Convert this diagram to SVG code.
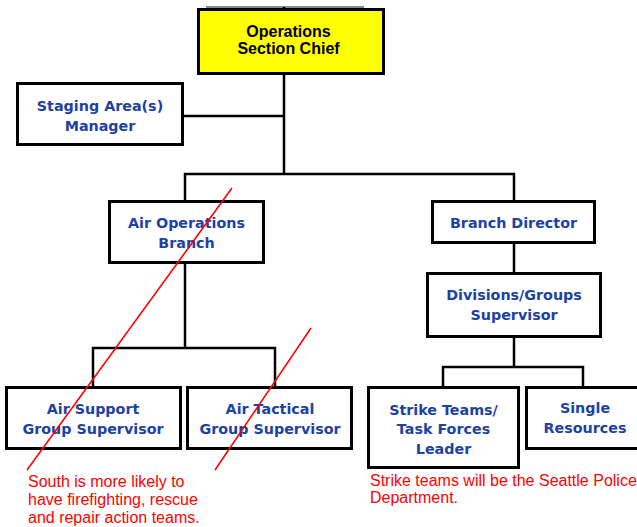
<svg xmlns="http://www.w3.org/2000/svg" width="637" height="527" viewBox="0 0 637 527">
  <style>
    .box { fill: #ffffff; stroke: #000000; stroke-width: 3; }
    .chief { fill: #ffff00; stroke: #000000; stroke-width: 3; }
    .lbl { font-family: "DejaVu Sans", Verdana, sans-serif; font-weight: bold; font-size: 14.3px; fill: #1c42a4; text-anchor: middle; }
    .chief-lbl { font-family: "Liberation Sans", Arial, sans-serif; font-weight: bold; font-size: 16px; fill: #000000; text-anchor: middle; }
    .wire { fill: none; stroke: #000000; stroke-width: 2.5; }
    .note { font-family: "Liberation Sans", Arial, sans-serif; font-size: 16px; fill: #ff0000; }
    .strike { stroke: #ff0000; stroke-width: 1.6; fill: none; }
  </style>
  <rect width="637" height="527" fill="#ffffff"/>

  <!-- connectors -->
  <g id="connectors">
    <path d="M206 7 H364" stroke="#8a8a8a" stroke-width="2" fill="none"/>
    <path class="wire" d="M284 7 V10"/>
    <path class="wire" d="M284 74 V174"/>
    <path class="wire" d="M183 116 H284"/>
    <path class="wire" d="M185 201 V174 H514 V201"/>
    <path class="wire" d="M185 263 V348"/>
    <path class="wire" d="M93 387 V348 H275 V387"/>
    <path class="wire" d="M514 243 V273"/>
    <path class="wire" d="M514 337 V367"/>
    <path class="wire" d="M443 387 V367 H583 V387"/>
  </g>

  <g id="ops-chief">
    <rect class="chief" x="198.5" y="9.5" width="185" height="64"/>
    <text class="chief-lbl" x="288.5" y="37">Operations</text>
    <text class="chief-lbl" x="288.5" y="54">Section Chief</text>
  </g>

  <g id="staging">
    <rect class="box" x="17.5" y="83.5" width="165" height="61"/>
    <text class="lbl" x="100" y="111">Staging Area(s)</text>
    <text class="lbl" x="100" y="131">Manager</text>
  </g>

  <g id="air-ops">
    <rect class="box" x="109.5" y="201.5" width="154" height="61"/>
    <text class="lbl" x="186.5" y="228">Air Operations</text>
    <text class="lbl" x="186.5" y="248">Branch</text>
  </g>

  <g id="branch-director">
    <rect class="box" x="432.5" y="201.5" width="162" height="41"/>
    <text class="lbl" x="513.5" y="228">Branch Director</text>
  </g>

  <g id="divisions">
    <rect class="box" x="427.5" y="273.5" width="173" height="63"/>
    <text class="lbl" x="514" y="300">Divisions/Groups</text>
    <text class="lbl" x="514" y="320">Supervisor</text>
  </g>

  <g id="air-support">
    <rect class="box" x="6.5" y="387.5" width="174" height="61"/>
    <text class="lbl" x="93" y="414">Air Support</text>
    <text class="lbl" x="93" y="434">Group Supervisor</text>
  </g>

  <g id="air-tactical">
    <rect class="box" x="187.5" y="387.5" width="164" height="61"/>
    <text class="lbl" x="270" y="414">Air Tactical</text>
    <text class="lbl" x="270" y="434">Group Supervisor</text>
  </g>

  <g id="strike-teams">
    <rect class="box" x="368.5" y="387.5" width="150" height="80"/>
    <text class="lbl" x="443.5" y="415">Strike Teams/</text>
    <text class="lbl" x="443.5" y="434">Task Forces</text>
    <text class="lbl" x="443.5" y="454">Leader</text>
  </g>

  <g id="single-resources">
    <rect class="box" x="526.5" y="387.5" width="120" height="61"/>
    <text class="lbl" x="585" y="413">Single</text>
    <text class="lbl" x="585" y="433">Resources</text>
  </g>

  <!-- red annotations -->
  <g id="annotations">
    <path class="strike" d="M27 470 L232 188"/>
    <path class="strike" d="M215 470 L311 328"/>
    <text class="note" x="28" y="487">South is more likely to</text>
    <text class="note" x="28" y="505">have firefighting, rescue</text>
    <text class="note" x="28" y="523">and repair action teams.</text>
    <text class="note" x="370" y="486">Strike teams will be the Seattle Police</text>
    <text class="note" x="370" y="503">Department.</text>
  </g>
</svg>
